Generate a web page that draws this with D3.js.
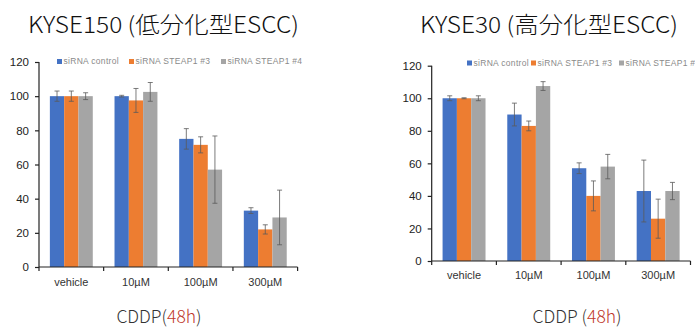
<!DOCTYPE html>
<html>
<head>
<meta charset="utf-8">
<script src="https://cdn.jsdelivr.net/npm/d3@7"></script>
<style>
  body { margin: 0; background: #fff; }
  svg { display: block; }
</style>
</head>
<body>
<script>
// chart size
var w = 695;
var h = 329;

// data
var categories = ["vehicle", "10µM", "100µM", "300µM"];
var seriesNames = ["siRNA control", "siRNA STEAP1 #3", "siRNA STEAP1 #4"];
var seriesColors = ["#4472C4", "#ED7D31", "#A5A5A5"];
var yTicks = [0, 20, 40, 60, 80, 100, 120];

// KYSE150
var k150Control = [100, 100, 75, 33];
var k150Control_err = [3, 0.5, 6, 1.7];
var k150Steap3 = [100, 97.5, 71.5, 22];
var k150Steap3_err = [3, 7, 4.7, 2.7];
var k150Steap4 = [100, 102.5, 57, 29];
var k150Steap4_err = [2, 5.5, 19.7, 16];

// KYSE30
var k30Control = [100, 90, 57, 43];
var k30Control_err = [1.5, 7, 3.3, 19];
var k30Steap3 = [100, 83, 40, 26];
var k30Steap3_err = [0.3, 3, 9.2, 12];
var k30Steap4 = [100, 107.5, 58, 43];
var k30Steap4_err = [1.5, 2.7, 7.5, 5.3];

var svg = d3.select("body")
  .append("svg")
  .attr("width", w)
  .attr("height", h);

function drawPanel(p) {
  var g = svg.append("g");

  var yScale = d3.scaleLinear()
    .domain([0, 120])
    .range([p.y0, p.y120]);

  var xScale = d3.scaleBand()
    .domain(categories)
    .range([p.x0, p.x1])
    .paddingInner(0)
    .paddingOuter(0);

  var xSub = d3.scaleBand()
    .domain(d3.range(seriesNames.length))
    .range([0, xScale.bandwidth()])
    .paddingInner(0)
    .paddingOuter(0.76);

  // bars
  p.values.forEach(function(vals, s) {
    g.selectAll("rect.s" + s)
      .data(vals)
      .enter()
      .append("rect")
      .attr("x", function(d, i) { return xScale(categories[i]) + xSub(s); })
      .attr("y", function(d) { return yScale(d); })
      .attr("width", xSub.bandwidth())
      .attr("height", function(d) { return yScale(0) - yScale(d); })
      .attr("fill", seriesColors[s]);
  });

  // error bars
  p.values.forEach(function(vals, s) {
    var errs = p.errors[s];
    vals.forEach(function(v, i) {
      var cx = xScale(categories[i]) + xSub(s) + xSub.bandwidth() / 2;
      var lo = yScale(v - errs[i]), hi = yScale(v + errs[i]);
      g.append("line")
        .attr("x1", cx).attr("x2", cx).attr("y1", lo).attr("y2", hi)
        .attr("stroke", "#5a5a5a").attr("stroke-width", 0.8);
      [lo, hi].forEach(function(yy) {
        g.append("line")
          .attr("x1", cx - 2.5).attr("x2", cx + 2.5).attr("y1", yy).attr("y2", yy)
          .attr("stroke", "#5a5a5a").attr("stroke-width", 0.8);
      });
    });
  });

  // y axis
  var yAxis = d3.axisLeft(yScale)
    .tickValues(yTicks)
    .tickSize(4)
    .tickPadding(6);
  var ya = g.append("g")
    .attr("transform", "translate(" + p.x0 + ",0)")
    .call(yAxis);
  ya.select(".domain").attr("stroke", "#222").attr("stroke-width", 1.2)
    .attr("d", "M0," + yScale(0) + "V" + yScale(120));
  ya.selectAll(".tick line").attr("stroke", "#222").attr("stroke-width", 1.2);
  ya.selectAll(".tick text")
    .attr("font-family", "Liberation Sans, Arial, sans-serif")
    .attr("font-size", "11.5px")
    .attr("fill", "#222");

  // x axis, ticks at category boundaries
  var xa = g.append("g");
  xa.append("line")
    .attr("x1", p.x0).attr("x2", p.x1)
    .attr("y1", yScale(0)).attr("y2", yScale(0))
    .attr("stroke", "#222").attr("stroke-width", 1.2);
  xa.selectAll("line.tk")
    .data(categories.concat(["end"]))
    .enter()
    .append("line")
    .attr("class", "tk")
    .attr("x1", function(d, i) { return p.x0 + i * xScale.step(); })
    .attr("x2", function(d, i) { return p.x0 + i * xScale.step(); })
    .attr("y1", yScale(0))
    .attr("y2", yScale(0) + 4)
    .attr("stroke", "#222").attr("stroke-width", 1.2);
  xa.selectAll("text")
    .data(categories)
    .enter()
    .append("text")
    .text(function(d) { return d; })
    .attr("x", function(d) { return xScale(d) + xScale.bandwidth() / 2; })
    .attr("y", p.xLabelY)
    .attr("text-anchor", "middle")
    .attr("font-family", "Liberation Sans, Arial, sans-serif")
    .attr("font-size", "11px")
    .attr("fill", "#333");

  // legend
  var lg = g.append("g");
  seriesNames.forEach(function(name, s) {
    lg.append("rect")
      .attr("x", p.legendX[s]).attr("y", p.legendY - 3.5)
      .attr("width", 5).attr("height", 5)
      .attr("fill", seriesColors[s]);
    lg.append("text")
      .text(name)
      .attr("x", p.legendX[s] + 6.5)
      .attr("y", p.legendY + 1.5)
      .attr("font-family", "Liberation Sans, Arial, sans-serif")
      .attr("font-size", p.legendSize)
      .attr("letter-spacing", "0.3px")
      .attr("fill", "#8a8a8a");
  });

  // title
  g.append("text")
    .text(p.title)
    .attr("x", p.titleX)
    .attr("y", 33)
    .attr("textLength", p.titleLen)
    .attr("lengthAdjust", "spacingAndGlyphs")
    .attr("font-family", "Noto Sans CJK JP, sans-serif")
    .attr("font-weight", 300)
    .attr("font-size", "22.5px")
    .attr("fill", "#111");

  // bottom caption
  var cap = g.append("text")
    .attr("x", p.capX)
    .attr("y", 323)
    .attr("text-anchor", "middle")
    .attr("font-family", "Noto Sans CJK JP, sans-serif")
    .attr("font-weight", 300)
    .attr("font-size", "17.5px")
    .attr("fill", "#333");
  cap.append("tspan").text(p.capPre);
  cap.append("tspan").text("48h").attr("fill", "#C0392B");
  cap.append("tspan").text(")");
}

drawPanel({
  title: "KYSE150 (低分化型ESCC)",
  titleX: 28, titleLen: 271,
  x0: 39, x1: 297.6,
  y0: 267, y120: 62,
  xLabelY: 286,
  legendX: [57, 129, 221],
  legendY: 62.5,
  legendSize: "8.5px",
  capX: 159, capPre: "CDDP(",
  values: [k150Control, k150Steap3, k150Steap4],
  errors: [k150Control_err, k150Steap3_err, k150Steap4_err]
});

drawPanel({
  title: "KYSE30 (高分化型ESCC)",
  titleX: 420, titleLen: 258,
  x0: 431.7, x1: 690.5,
  y0: 261, y120: 65.7,
  xLabelY: 279,
  legendX: [467, 531, 619],
  legendY: 64,
  legendSize: "8.5px",
  capX: 577, capPre: "CDDP (",
  values: [k30Control, k30Steap3, k30Steap4],
  errors: [k30Control_err, k30Steap3_err, k30Steap4_err]
});
</script>
</body>
</html>
